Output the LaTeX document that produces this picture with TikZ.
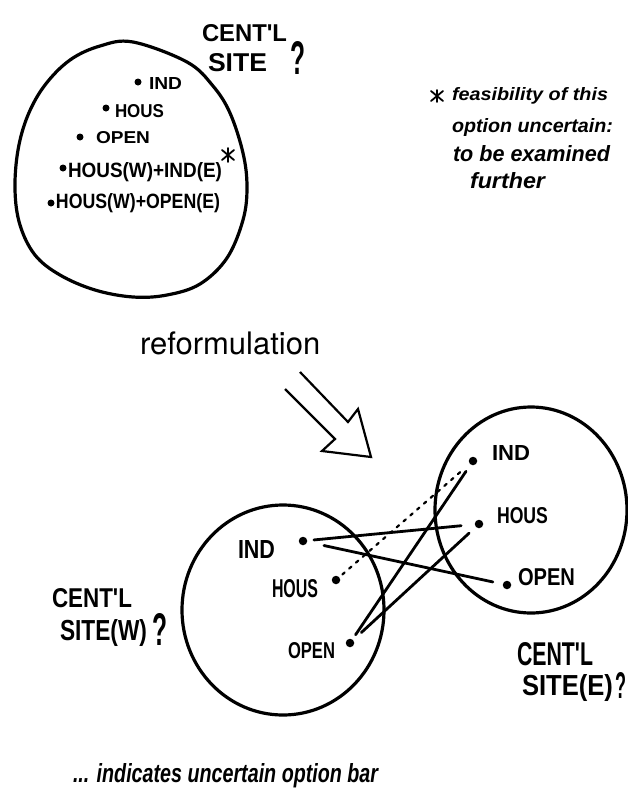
\documentclass[tikz,border=0pt]{standalone}
\usepackage{fontspec}
\usepackage{graphicx}
\usetikzlibrary{calc}
\newfontfamily\handfont{Liberation Sans}
\newfontfamily\helvfont{TeX Gyre Heros}
\newcommand\hw[3]{\resizebox{#1pt}{#2pt}{\handfont\bfseries #3}}
\newcommand\hwi[3]{\resizebox{#1pt}{#2pt}{\handfont\bfseries\itshape #3}}
\begin{document}
\begin{tikzpicture}[x=1pt,y=-1pt,
  ring/.style={line width=3.2pt, line join=round},
  link/.style={line width=2.8pt, line cap=round},
  maybe/.style={line width=2.2pt, line cap=round, dash pattern=on 3pt off 6pt},
  bullet/.style={circle, fill=black, inner sep=0pt, minimum size=8.5pt},
  sbullet/.style={circle, fill=black, inner sep=0pt, minimum size=7pt},
  lbl/.style={anchor=base west, inner sep=0pt, outer sep=0pt},
  hollow/.style={line width=2.2pt, line join=miter},
  starmark/.style={line width=1.8pt, line cap=round}]
\useasboundingbox (0,0) rectangle (627,790);
\fill[white] (0,0) rectangle (627,790);

% ---------- top circle ----------
\draw[ring] plot[smooth cycle, tension=0.6] coordinates {(133,42) (187,62) (213,86) (230,113) (243,153) (247,187) (243,220) (227,258) (200,284) (167,295) (133,297) (95,290) (60,275) (35,255) (20,225) (15,190) (18,150) (28,115) (45,85) (70,60) (100,46)};
\node[lbl] (tcent) at (202,41) {\hw{85}{17}{CENT'L}};
\node[lbl] (tsite) at (208,71) {\hw{59}{18}{SITE}};
\node[lbl] (tq) at (290,74) {\hw{15}{33}{?}};

\node[sbullet] (tI) at (138,82) {};
\node[lbl] (tIl) at (149,89) {\hw{33}{12}{IND}};
\node[sbullet] (tH) at (106,108) {};
\node[lbl] (tHl) at (115,117) {\hw{49}{13}{HOUS}};
\node[sbullet] (tO) at (80,137) {};
\node[lbl] (tOl) at (96,143) {\hw{54}{12}{OPEN}};
\node[sbullet] (tHI) at (63,168) {};
\node[lbl] (tHIl) at (68,177) {\hw{154}{15}{HOUS(W)+IND(E)}};
\coordinate (star1) at (228,155);
\draw[starmark] ($(star1)+(-6,-5)$) -- ($(star1)+(6,5)$) ($(star1)+(6,-5)$) -- ($(star1)+(-6,5)$) ($(star1)+(0,-7)$) -- ($(star1)+(0,7)$);
\node[sbullet] (tHO) at (51,203) {};
\node[lbl] (tHOl) at (56,208) {\hw{164}{15}{HOUS(W)+OPEN(E)}};

% ---------- note ----------
\coordinate (star2) at (437,96);
\draw[starmark] ($(star2)+(-6,-5)$) -- ($(star2)+(6,5)$) ($(star2)+(6,-5)$) -- ($(star2)+(-6,5)$) ($(star2)+(0,-6)$) -- ($(star2)+(0,6)$);
\node[lbl] (n1) at (452,100) {\hwi{156}{13}{feasibility of this}};
\node[lbl] (n2) at (452,132) {\hwi{161}{14}{option uncertain:}};
\node[lbl] (n3) at (453,161) {\hwi{157}{16}{to be examined}};
\node[lbl] (n4) at (470,188) {\hwi{75}{16}{further}};

% ---------- reformulation ----------
\node[lbl] (ref) at (140,354) {\helvfont\fontsize{31}{36}\selectfont reformulation};
\draw[hollow] (300,372) -- (348,422) -- (358,409) -- (371,457) -- (322,451) -- (335,439) -- (285,389);

% ---------- lower circles ----------
\draw[ring] (283,610) ellipse [x radius=101, y radius=105];
\draw[ring] (531,510) ellipse [x radius=96, y radius=103];

\node[bullet] (wI) at (303,541) {};
\node[lbl] (wIl) at (238,558) {\hw{37}{18}{IND}};
\node[bullet] (wH) at (336,580) {};
\node[lbl] (wHl) at (272,597) {\hw{46}{18}{HOUS}};
\node[bullet] (wO) at (350,643) {};
\node[lbl] (wOl) at (288,658) {\hw{47}{16}{OPEN}};

\node[bullet] (eI) at (473,461) {};
\node[lbl] (eIl) at (492,460) {\hw{38}{15}{IND}};
\node[bullet] (eH) at (479,524) {};
\node[lbl] (eHl) at (497,523) {\hw{51}{16}{HOUS}};
\node[bullet] (eO) at (507,585) {};
\node[lbl] (eOl) at (518,585) {\hw{57}{17}{OPEN}};

\draw[link, shorten <=6.5pt, shorten >=13.5pt] (wI) -- (eH);
\draw[link, shorten <=17pt, shorten >=10pt] (wI) -- (eO);
\draw[maybe, shorten <=4pt, shorten >=9pt] (wH) -- (eI);
\draw[link, shorten <=5.5pt, shorten >=8pt] (wO) -- (eI);
\draw[link, shorten <=11pt, shorten >=9pt] (wO) -- (eH);

\node[lbl] (wcent) at (52,607) {\hw{80}{19}{CENT'L}};
\node[lbl] (wsite) at (60,640) {\hw{87}{21}{SITE(W)}};
\node[lbl] (wq) at (152,645) {\hw{15}{32}{?}};

\node[lbl] (ecent) at (517,665) {\hw{76}{23}{CENT'L}};
\node[lbl] (esite) at (522,695) {\hw{91}{21}{SITE(E)}};
\node[lbl] (eq) at (615,698) {\hw{11}{26}{?}};

% ---------- legend ----------
\node[lbl] (legend) at (73,782) {\hwi{305}{19}{... indicates uncertain option bar}};
\end{tikzpicture}
\end{document}
